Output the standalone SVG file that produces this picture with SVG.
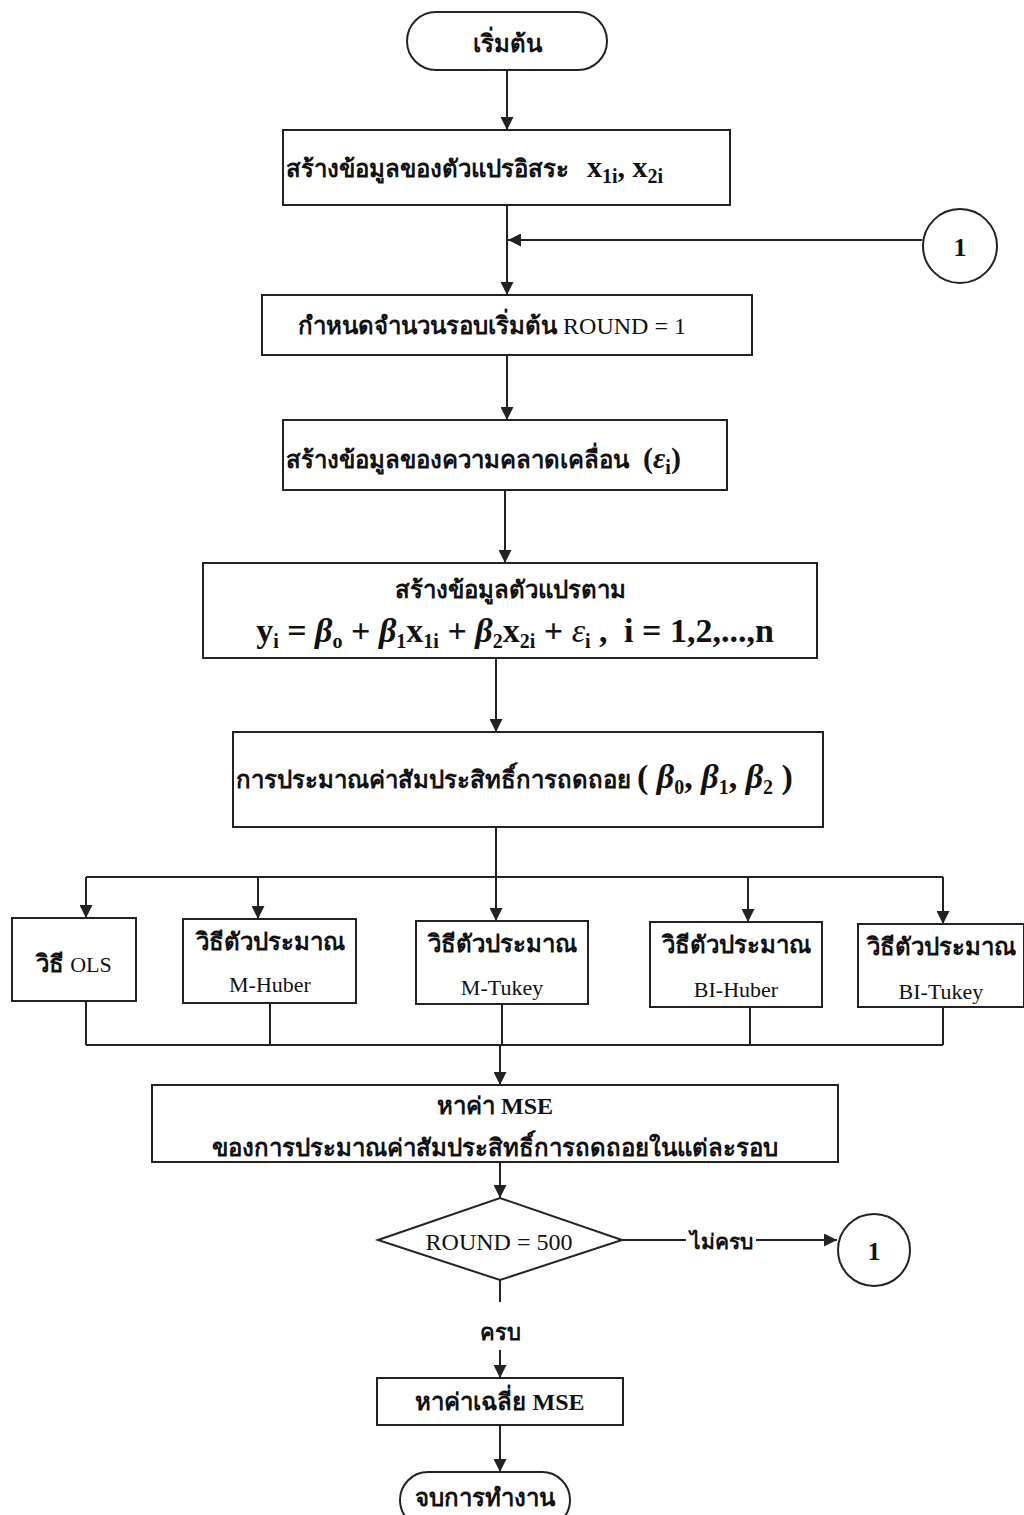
<svg xmlns="http://www.w3.org/2000/svg" width="1024" height="1515" viewBox="0 0 1024 1515">
<style>
.b{fill:#fff;stroke:#222;stroke-width:2}
.c{stroke:#222;stroke-width:2;fill:none}
.t{font-family:"Liberation Serif","Noto Sans CJK SC",serif;font-weight:bold;font-size:24px;fill:#111}
.e{font-family:"Liberation Serif",serif;font-size:22px;fill:#111}
.m{font-family:"Liberation Serif",serif;font-size:30px;fill:#111}
.mi{font-style:italic;font-weight:bold}
.s{font-size:20px}
</style>
<defs>
<marker id="a" viewBox="0 0 10 12" refX="12" refY="6" markerWidth="11" markerHeight="13" orient="auto" markerUnits="userSpaceOnUse">
<path d="M0,0L12,6L0,12z" fill="#222"/>
</marker>
</defs>
<rect width="1024" height="1515" fill="#fff"/>
<g id="connectors">
<line class="c" x1="507" y1="70" x2="507" y2="130" marker-end="url(#a)"/>
<line class="c" x1="507" y1="205" x2="507" y2="295" marker-end="url(#a)"/>
<line class="c" x1="922" y1="240" x2="508" y2="240" marker-end="url(#a)"/>
<line class="c" x1="507" y1="355" x2="507" y2="420" marker-end="url(#a)"/>
<line class="c" x1="505" y1="490" x2="505" y2="563" marker-end="url(#a)"/>
<line class="c" x1="496" y1="658" x2="496" y2="732" marker-end="url(#a)"/>
<line class="c" x1="496" y1="827" x2="496" y2="877"/>
<line class="c" x1="86" y1="877" x2="943" y2="877"/>
<line class="c" x1="86" y1="877" x2="86" y2="918" marker-end="url(#a)"/>
<line class="c" x1="258" y1="877" x2="258" y2="919" marker-end="url(#a)"/>
<line class="c" x1="496" y1="877" x2="496" y2="921" marker-end="url(#a)"/>
<line class="c" x1="748" y1="877" x2="748" y2="922" marker-end="url(#a)"/>
<line class="c" x1="943" y1="877" x2="943" y2="924" marker-end="url(#a)"/>
<line class="c" x1="86" y1="1001" x2="86" y2="1045"/>
<line class="c" x1="270" y1="1003" x2="270" y2="1045"/>
<line class="c" x1="502" y1="1004" x2="502" y2="1045"/>
<line class="c" x1="750" y1="1007" x2="750" y2="1045"/>
<line class="c" x1="943" y1="1007" x2="943" y2="1045"/>
<line class="c" x1="86" y1="1045" x2="943" y2="1045"/>
<line class="c" x1="500" y1="1045" x2="500" y2="1085" marker-end="url(#a)"/>
<line class="c" x1="500" y1="1162" x2="500" y2="1198" marker-end="url(#a)"/>
<line class="c" x1="622" y1="1240" x2="686" y2="1240"/>
<line class="c" x1="756" y1="1240" x2="837" y2="1240" marker-end="url(#a)"/>
<line class="c" x1="500" y1="1280" x2="500" y2="1302"/>
<line class="c" x1="500" y1="1350" x2="500" y2="1378" marker-end="url(#a)"/>
<line class="c" x1="500" y1="1425" x2="500" y2="1472" marker-end="url(#a)"/>
<text class="t" x="721" y="1249" text-anchor="middle" style="font-size:21px">ไม่ครบ</text>
<text class="t" x="500" y="1340" text-anchor="middle" style="font-size:22px">ครบ</text>
</g>
<g id="start">
<rect class="b" x="407" y="12" width="200" height="58" rx="29"/>
<text class="t" x="507" y="52" text-anchor="middle">เริ่มต้น</text>
</g>
<g id="n1">
<rect class="b" x="283" y="130" width="447" height="75"/>
<text class="t" x="286" y="177">สร้างข้อมูลของตัวแปรอิสระ<tspan class="m" dx="18" style="font-weight:bold">x<tspan class="s" dy="6">1i</tspan><tspan dy="-6">, x</tspan><tspan class="s" dy="6">2i</tspan></tspan></text>
</g>
<g id="c1">
<circle class="b" cx="960" cy="246" r="37"/>
<text class="m" x="960" y="256" text-anchor="middle" style="font-weight:bold;font-size:26px">1</text>
</g>
<g id="n2">
<rect class="b" x="262" y="295" width="490" height="60"/>
<text class="t" x="492" y="334" text-anchor="middle">กำหนดจำนวนรอบเริ่มต้น <tspan style="font-weight:normal">ROUND = 1</tspan></text>
</g>
<g id="n3">
<rect class="b" x="283" y="420" width="444" height="70"/>
<text class="t" x="286" y="468">สร้างข้อมูลของความคลาดเคลื่อน<tspan class="m" dx="14">(<tspan font-style="italic">ε</tspan><tspan class="s" dy="6">i</tspan><tspan dy="-6">)</tspan></tspan></text>
</g>
<g id="n4">
<rect class="b" x="203" y="563" width="614" height="95"/>
<text class="t" x="510" y="598" text-anchor="middle">สร้างข้อมูลตัวแปรตาม</text>
<text class="m" x="515" y="642" text-anchor="middle" style="font-weight:bold;font-size:34px">y<tspan class="s" dy="6">i</tspan><tspan dy="-6"> = </tspan><tspan class="mi">β</tspan><tspan class="s" dy="6">o</tspan><tspan dy="-6"> + </tspan><tspan class="mi">β</tspan><tspan class="s" dy="6">1</tspan><tspan dy="-6">x</tspan><tspan class="s" dy="6">1i</tspan><tspan dy="-6"> + </tspan><tspan class="mi">β</tspan><tspan class="s" dy="6">2</tspan><tspan dy="-6">x</tspan><tspan class="s" dy="6">2i</tspan><tspan dy="-6"> + </tspan><tspan font-style="italic" font-weight="normal">ε</tspan><tspan class="s" dy="6">i</tspan><tspan dy="-6"> , </tspan><tspan dx="8">i = 1,2,...,n</tspan></text>
</g>
<g id="n5">
<rect class="b" x="233" y="732" width="590" height="95"/>
<text class="t" x="236" y="788">การประมาณค่าสัมประสิทธิ์การถดถอย <tspan class="m" style="font-size:34px">( <tspan class="mi">β</tspan><tspan class="s" dy="6">0</tspan><tspan dy="-6">, </tspan><tspan class="mi">β</tspan><tspan class="s" dy="6">1</tspan><tspan dy="-6">, </tspan><tspan class="mi">β</tspan><tspan class="s" dy="6">2</tspan><tspan dy="-6"> )</tspan></tspan></text>
</g>
<g id="ols">
<rect class="b" x="12" y="918" width="124" height="83"/>
<text class="t" x="74" y="972" text-anchor="middle">วิธี <tspan class="e" style="font-weight:normal">OLS</tspan></text>
</g>
<g id="mhuber">
<rect class="b" x="183" y="919" width="173" height="84"/>
<text class="t" x="270" y="950" text-anchor="middle">วิธีตัวประมาณ</text>
<text class="e" x="270" y="992" text-anchor="middle">M-Huber</text>
</g>
<g id="mtukey">
<rect class="b" x="416" y="921" width="172" height="83"/>
<text class="t" x="502" y="952" text-anchor="middle">วิธีตัวประมาณ</text>
<text class="e" x="502" y="995" text-anchor="middle">M-Tukey</text>
</g>
<g id="bihuber">
<rect class="b" x="650" y="922" width="172" height="85"/>
<text class="t" x="736" y="953" text-anchor="middle">วิธีตัวประมาณ</text>
<text class="e" x="736" y="997" text-anchor="middle">BI-Huber</text>
</g>
<g id="bitukey">
<rect class="b" x="858" y="924" width="166" height="83"/>
<text class="t" x="941" y="955" text-anchor="middle">วิธีตัวประมาณ</text>
<text class="e" x="941" y="999" text-anchor="middle">BI-Tukey</text>
</g>
<g id="mse">
<rect class="b" x="152" y="1085" width="686" height="77"/>
<text class="t" x="495" y="1114" text-anchor="middle">หาค่า MSE</text>
<text class="t" x="495" y="1156" text-anchor="middle">ของการประมาณค่าสัมประสิทธิ์การถดถอยในแต่ละรอบ</text>
</g>
<g id="decision">
<polygon class="b" points="378,1240 500,1198 622,1240 500,1280"/>
<text class="e" x="499" y="1250" text-anchor="middle" style="font-size:24px">ROUND = 500</text>
</g>
<g id="c1b">
<circle class="b" cx="874" cy="1250" r="36"/>
<text class="m" x="874" y="1260" text-anchor="middle" style="font-weight:bold;font-size:26px">1</text>
</g>
<g id="avg">
<rect class="b" x="377" y="1378" width="246" height="47"/>
<text class="t" x="500" y="1410" text-anchor="middle">หาค่าเฉลี่ย MSE</text>
</g>
<g id="end">
<rect class="b" x="400" y="1472" width="170" height="56" rx="28"/>
<text class="t" x="485" y="1506" text-anchor="middle">จบการทำงาน</text>
</g>
</svg>
